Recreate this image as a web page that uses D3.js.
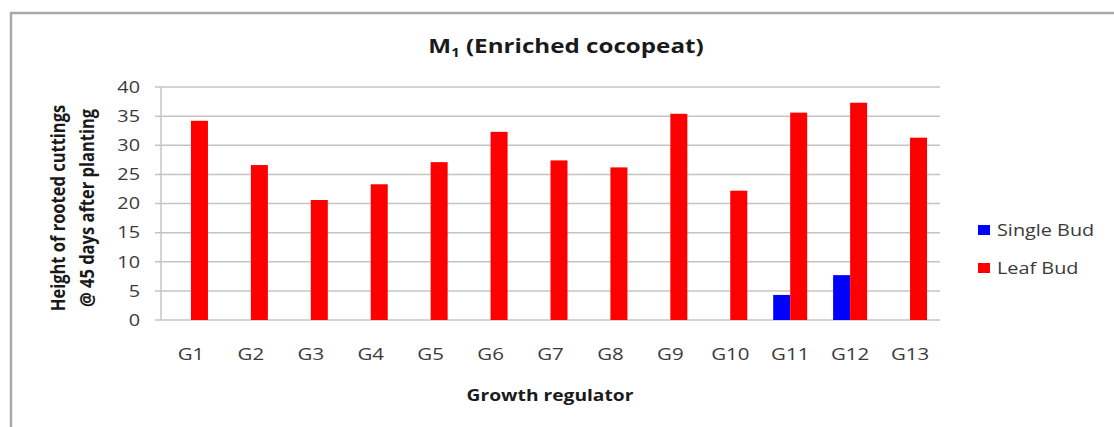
<!DOCTYPE html>
<html>
<head>
<meta charset="utf-8">
<script src="https://cdn.jsdelivr.net/npm/d3@7"></script>
<style>
  html, body { margin: 0; padding: 0; background: #fff; }
  svg { display: block; }
</style>
</head>
<body>
<svg id="chart" width="1114" height="427"></svg>
<script>
// Growth regulator treatments
const categories = ["G1","G2","G3","G4","G5","G6","G7","G8","G9","G10","G11","G12","G13"];
// Height of rooted cuttings @ 45 days after planting
const singleBud = [0,0,0,0,0,0,0,0,0,0,4.3,7.7,0];
const leafBud   = [34.2,26.6,20.6,23.3,27.1,32.3,27.4,26.2,35.4,22.2,35.6,37.3,31.3];
const yTicks = [0,5,10,15,20,25,30,35,40];
const seriesNames = ["Single Bud","Leaf Bud"];
const seriesColors = ["#0000ff","#ff0000"];

const svg = d3.select("#chart");
const font = "'Open Sans', 'Liberation Sans', sans-serif";
const SX = 1.24; // horizontal widening of the lettering

// outer chart frame (runs off the right and bottom edges)
svg.append("path")
  .attr("d", "M11,440 V13 H1130")
  .attr("fill", "none")
  .attr("stroke", "#a8a8a8")
  .attr("stroke-width", 2.5);

const plot = { left: 161, right: 940, top: 87, bottom: 320 };

const x = d3.scaleBand().domain(categories).range([plot.left, plot.right]).paddingInner(0).paddingOuter(0);
const x1 = d3.scaleBand().domain(seriesNames).range([x.bandwidth()/2 - 17, x.bandwidth()/2 + 17]);
const y = d3.scaleLinear().domain([0, 40]).range([plot.bottom, plot.top]);

// horizontal gridlines
svg.append("g")
  .selectAll("line")
  .data(yTicks)
  .join("line")
  .attr("x1", plot.left - 6)
  .attr("x2", plot.right)
  .attr("y1", d => y(d))
  .attr("y2", d => y(d))
  .attr("stroke", "#c4c4c4")
  .attr("stroke-width", 1.5);

// y axis line
svg.append("line")
  .attr("x1", plot.left).attr("x2", plot.left)
  .attr("y1", plot.top).attr("y2", plot.bottom)
  .attr("stroke", "#c4c4c4").attr("stroke-width", 1.5);

// y tick labels
svg.append("g")
  .selectAll("text")
  .data(yTicks)
  .join("text")
  .attr("transform", d => `translate(140,${y(d)}) scale(${SX},1)`)
  .attr("dy", "0.36em")
  .attr("text-anchor", "end")
  .attr("font-family", font)
  .attr("font-size", 16)
  .attr("fill", "#3a3a3a")
  .text(d => d);

// bars
const rows = categories.map((c, i) => ({ cat: c, vals: [singleBud[i], leafBud[i]] }));
const groups = svg.append("g")
  .selectAll("g")
  .data(rows)
  .join("g")
  .attr("transform", d => `translate(${x(d.cat)},0)`);

groups.selectAll("rect")
  .data(d => d.vals.map((v, j) => ({ v, s: seriesNames[j], c: seriesColors[j] })))
  .join("rect")
  .attr("x", d => x1(d.s))
  .attr("width", x1.bandwidth())
  .attr("y", d => y(d.v))
  .attr("height", d => y(0) - y(d.v))
  .attr("fill", d => d.c);

// x tick labels
svg.append("g")
  .selectAll("text")
  .data(categories)
  .join("text")
  .attr("transform", d => `translate(${x(d) + x.bandwidth()/2},360) scale(${SX},1)`)
  .attr("text-anchor", "middle")
  .attr("font-family", font)
  .attr("font-size", 16.5)
  .attr("fill", "#3a3a3a")
  .text(d => d);

// title
const title = svg.append("text")
  .attr("transform", `translate(566,53) scale(${SX},1)`)
  .attr("text-anchor", "middle")
  .attr("font-family", font)
  .attr("font-weight", "bold")
  .attr("font-size", 19.5)
  .attr("fill", "#1a1a1a");
title.append("tspan").text("M");
title.append("tspan").attr("font-size", 12).attr("dy", 4).text("1");
title.append("tspan").attr("dy", -4).text(" (Enriched cocopeat)");

// y axis title
const yTitle = svg.append("text")
  .attr("transform", `translate(72,208) scale(${SX},1) rotate(-90)`)
  .attr("text-anchor", "middle")
  .attr("font-family", font)
  .attr("font-weight", "bold")
  .attr("font-size", 16.5)
  .attr("fill", "#1a1a1a");
yTitle.append("tspan").attr("x", 0).attr("y", -6).text("Height of rooted cuttings");
yTitle.append("tspan").attr("x", 0).attr("y", 17.5).text("@ 45 days after planting");

// x axis title
svg.append("text")
  .attr("transform", `translate(550,401) scale(${SX},1)`)
  .attr("text-anchor", "middle")
  .attr("font-family", font)
  .attr("font-weight", "bold")
  .attr("font-size", 15.5)
  .attr("fill", "#1a1a1a")
  .text("Growth regulator");

// legend
const legend = svg.append("g")
  .selectAll("g")
  .data(seriesNames)
  .join("g")
  .attr("transform", (d, i) => `translate(978,${230 + i * 38})`);
legend.append("rect")
  .attr("x", 0).attr("y", -5).attr("width", 12).attr("height", 10)
  .attr("fill", (d, i) => seriesColors[i]);
legend.append("text")
  .attr("transform", `translate(19,0) scale(${SX},1)`)
  .attr("dy", "0.36em")
  .attr("font-family", font)
  .attr("font-size", 16)
  .attr("fill", "#3a3a3a")
  .text(d => d);
</script>
</body>
</html>
